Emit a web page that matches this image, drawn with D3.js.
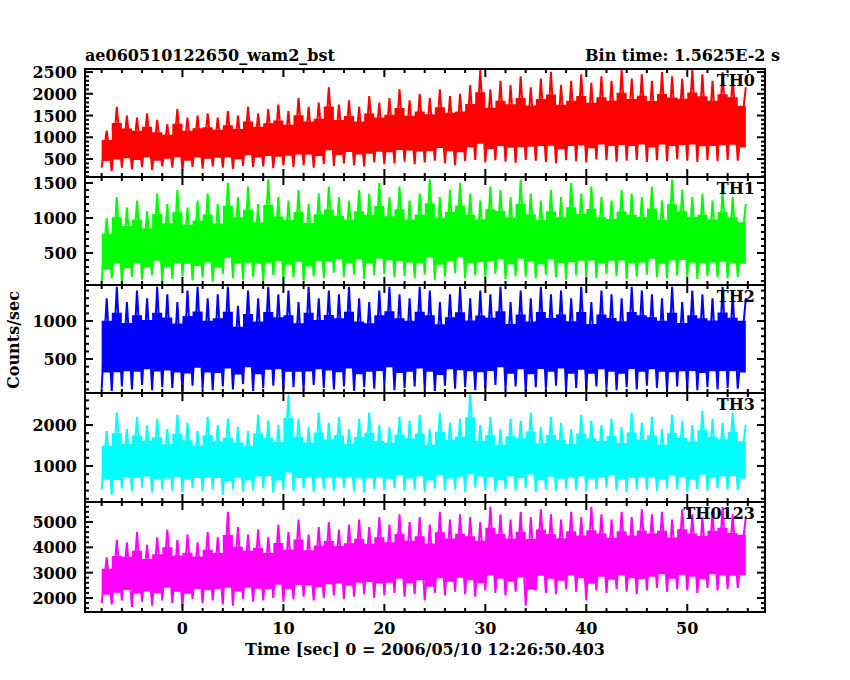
<!DOCTYPE html>
<html>
<head>
<meta charset="utf-8">
<script src="https://cdn.jsdelivr.net/npm/d3@7"></script>
<style>
  body { margin: 0; background: #fff; }
  text { font-family: "DejaVu Serif", serif; font-weight: bold; fill: #000; }
</style>
</head>
<body>
<div id="chart"></div>
<script>
// Time bins (sec), one per second of the light curve; data end at 55.8 s
var times = d3.range(-8, 56);
var tEnd = 55.8;

// Peak (upper) and trough (lower) counts/sec
var th0Hi = [1150,1700,1500,1450,1550,1400,1300,1650,1450,1500,1550,1450,1600,1500,1700,1550,1650,1750,1600,1900,1700,1800,2150,1750,1850,1700,1950,1800,1900,2100,1850,2000,1900,2100,1950,2000,2200,2550,2100,2300,2200,2400,2150,2350,2500,2200,2300,2450,2250,2400,2300,2550,2350,2450,2300,2500,2400,2350,2550,2450,2300,2500,2400,2150];
var th0Lo = [300,220,300,260,310,250,330,300,240,320,280,330,300,270,340,310,330,290,350,320,360,300,380,340,400,360,330,420,380,400,440,380,420,460,400,360,450,480,420,470,440,410,480,460,430,400,470,450,420,490,470,440,460,480,430,470,450,490,460,430,470,450,480,460];
var th1Hi = [1000,1300,1150,1250,1100,1350,1200,1400,1150,1250,1350,1200,1500,1300,1450,1200,1550,1300,1250,1400,1200,1350,1450,1300,1250,1400,1350,1500,1300,1450,1250,1350,1550,1300,1400,1500,1350,1250,1450,1400,1300,1550,1350,1250,1400,1300,1500,1350,1450,1300,1250,1400,1350,1300,1450,1250,1550,1400,1300,1350,1250,1400,1300,1200];
var th1Lo = [100,140,90,160,120,180,100,130,170,110,150,90,200,140,120,160,100,180,130,150,110,170,140,220,160,190,130,180,200,150,170,140,190,120,160,210,140,180,150,200,130,170,160,140,190,150,120,180,160,140,200,170,130,160,190,150,140,180,160,130,170,150,140,160];
var th2Hi = [1300,1450,1250,1400,1300,1450,1350,1250,1400,1450,1300,1350,1450,1200,1400,1300,1450,1350,1400,1250,1450,1300,1400,1350,1450,1300,1250,1400,1450,1350,1300,1450,1400,1250,1350,1450,1300,1400,1350,1450,1250,1400,1300,1450,1350,1400,1300,1450,1250,1400,1350,1300,1450,1400,1350,1300,1450,1250,1400,1350,1300,1450,1350,1300];
var th2Lo = [110,80,140,100,160,90,130,120,70,150,110,90,140,100,170,80,120,150,100,130,90,160,120,100,140,80,130,110,160,90,120,140,100,80,150,110,130,90,120,160,100,140,80,130,110,150,90,120,100,140,110,90,130,100,150,120,80,140,110,90,130,100,120,110];
var th3Hi = [1850,2300,1900,2200,2000,2150,1900,2250,2050,1850,2200,2000,2150,1950,1850,2250,2100,2000,2750,2150,1950,2300,2050,2200,1900,2150,2300,2000,1950,2200,2100,2250,1900,2300,2050,2150,2800,2000,2200,1900,2150,2100,2300,1950,2200,2050,1900,2250,2100,2000,2150,1950,2300,2050,2200,1900,2250,2100,2000,2350,2150,2050,2300,2000];
var th3Lo = [420,300,450,380,470,350,430,400,360,460,390,420,300,440,380,410,460,350,420,390,450,370,430,400,470,380,350,440,410,460,390,420,370,450,400,430,360,470,410,380,440,400,460,370,420,390,450,410,380,430,470,400,360,440,410,390,450,420,380,440,400,460,420,410];
var th0123Hi = [3600,4300,4200,4600,4100,4400,4700,4300,4500,4200,4600,4400,5400,4800,4500,4700,4400,4900,4600,5100,4500,4800,5000,4700,4900,5100,4800,5200,4900,5300,5000,5200,4900,5400,5100,5300,5200,5000,5600,5300,5100,5400,5200,5500,5300,5100,5400,5200,5600,5300,5100,5400,5200,5500,5300,5400,5100,5500,5300,5200,5400,5600,5300,5200];
var th0123Lo = [1800,1750,1900,1650,1850,1700,1900,1800,1650,1950,1800,1900,1750,1700,1950,1850,1900,2000,1850,1950,2050,1900,2000,2100,1950,2050,2150,2000,2100,2200,2050,2150,1900,2200,2100,2250,2150,2050,2300,2200,2100,2250,1700,2300,2200,2150,2350,2250,1900,2300,2200,2350,2250,2150,2300,2400,2250,2350,2300,2200,2400,2300,2350,2400];

var panels = [
  { name: "TH0",    hi: th0Hi,    lo: th0Lo,    color: "#ff0000", domain: [86, 2570],   ticks: [500, 1000, 1500, 2000, 2500], minor: 100, major: 500 },
  { name: "TH1",    hi: th1Hi,    lo: th1Lo,    color: "#00ff00", domain: [43, 1586],   ticks: [500, 1000, 1500], minor: 100, major: 500 },
  { name: "TH2",    hi: th2Hi,    lo: th2Lo,    color: "#0000ff", domain: [53, 1474],   ticks: [500, 1000], minor: 100, major: 500 },
  { name: "TH3",    hi: th3Hi,    lo: th3Lo,    color: "#00ffff", domain: [122, 2780],  ticks: [1000, 2000], minor: 200, major: 1000 },
  { name: "TH0123", hi: th0123Hi, lo: th0123Lo, color: "#ff00ff", domain: [1447, 5790], ticks: [2000, 3000, 4000, 5000], minor: 200, major: 1000 }
];
var xTicks = [0, 10, 20, 30, 40, 50];

var svgWidth = 850, svgHeight = 680;
var left = 85, right = 765;
var bounds = [69, 177, 285, 393, 502, 612];

var svg = d3.select("#chart").append("svg")
  .attr("width", svgWidth)
  .attr("height", svgHeight);

var x = d3.scaleLinear().domain([-9.65, 57.7]).range([left, right]);

panels.forEach(function(p, i) {
  var top = bounds[i], bottom = bounds[i + 1];
  var y = d3.scaleLinear().domain(p.domain).range([bottom, top]);
  var g = svg.append("g");
  var last = times.length - 1;

  var clipId = "clip" + i;
  g.append("clipPath").attr("id", clipId).append("rect")
    .attr("x", left).attr("y", top).attr("width", right - left).attr("height", bottom - top);

  // solid core band, then spiky line between troughs and peaks
  var band = times.map(function(t, k) {
    return { t: t, lo: p.lo[k] + (p.hi[k] - p.lo[k]) * 0.18, hi: p.hi[k] - (p.hi[k] - p.lo[k]) * 0.25 };
  });
  band.push({ t: tEnd, lo: band[last].lo, hi: band[last].hi });
  g.append("path")
    .datum(band)
    .attr("clip-path", "url(#" + clipId + ")")
    .attr("d", d3.area()
      .x(function(d) { return x(d.t); })
      .y0(function(d) { return y(d.lo); })
      .y1(function(d) { return y(d.hi); })
      .curve(d3.curveStepAfter))
    .attr("fill", p.color);

  var pts = [];
  times.forEach(function(t, k) {
    pts.push({ t: t, v: p.lo[k] });
    pts.push({ t: t + 0.5, v: p.hi[k] });
  });
  pts[pts.length - 1].t = tEnd;
  g.append("path")
    .datum(pts)
    .attr("clip-path", "url(#" + clipId + ")")
    .attr("d", d3.line().x(function(d) { return x(d.t); }).y(function(d) { return y(d.v); }))
    .attr("fill", "none")
    .attr("stroke", p.color)
    .attr("stroke-width", 2);

  // frame
  g.append("rect")
    .attr("x", left).attr("y", top).attr("width", right - left).attr("height", bottom - top)
    .attr("fill", "none").attr("stroke", "#000").attr("stroke-width", 2);

  // x ticks, top and bottom, inside
  d3.range(-8, 57, 2).forEach(function(t) {
    var len = t % 10 === 0 ? 8 : 4;
    g.append("line").attr("x1", x(t)).attr("x2", x(t)).attr("y1", bottom).attr("y2", bottom - len)
      .attr("stroke", "#000").attr("stroke-width", 2);
    g.append("line").attr("x1", x(t)).attr("x2", x(t)).attr("y1", top).attr("y2", top + len)
      .attr("stroke", "#000").attr("stroke-width", 2);
  });

  // y ticks both sides
  var start = Math.ceil(p.domain[0] / p.minor) * p.minor;
  d3.range(start, p.domain[1], p.minor).forEach(function(v) {
    var len = v % p.major === 0 ? 8 : 4;
    g.append("line").attr("x1", left).attr("x2", left + len).attr("y1", y(v)).attr("y2", y(v))
      .attr("stroke", "#000").attr("stroke-width", 2);
    g.append("line").attr("x1", right).attr("x2", right - len).attr("y1", y(v)).attr("y2", y(v))
      .attr("stroke", "#000").attr("stroke-width", 2);
  });

  g.selectAll(".ylab").data(p.ticks).enter().append("text")
    .attr("x", left - 8).attr("y", function(d) { return y(d) + 6; })
    .attr("text-anchor", "end").attr("font-size", "16px")
    .text(function(d) { return d; });

  g.append("text")
    .attr("x", right - 10).attr("y", top + 17)
    .attr("text-anchor", "end").attr("font-size", "16px")
    .text(p.name);
});

svg.selectAll(".xlab").data(xTicks).enter().append("text")
  .attr("x", function(d) { return x(d); }).attr("y", 634)
  .attr("text-anchor", "middle").attr("font-size", "16px")
  .text(function(d) { return d; });

svg.append("text").attr("x", 85).attr("y", 61).attr("font-size", "16px")
  .text("ae060510122650_wam2_bst");
svg.append("text").attr("x", 780).attr("y", 61).attr("text-anchor", "end").attr("font-size", "16px")
  .text("Bin time: 1.5625E-2 s");
svg.append("text").attr("x", 425).attr("y", 655).attr("text-anchor", "middle").attr("font-size", "16px")
  .text("Time [sec] 0 = 2006/05/10 12:26:50.403");
svg.append("text")
  .attr("transform", "translate(19, 340) rotate(-90)")
  .attr("text-anchor", "middle").attr("font-size", "16px")
  .text("Counts/sec");
</script>
</body>
</html>
